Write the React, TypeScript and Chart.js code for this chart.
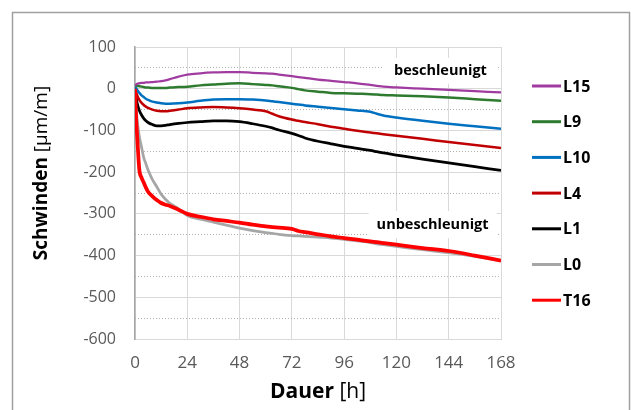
import { useEffect, useRef } from "react";
import { Chart, registerables } from "chart.js";

Chart.register(...registerables);

// ---- data ----
const hours = [0, 0.5, 1, 2, 3, 4, 5, 6, 8, 10, 12, 14, 16, 20, 24, 30, 36, 42, 48, 54, 60, 63, 66, 72, 75, 78, 84, 90, 96, 102, 108, 111, 114, 120, 132, 144, 156, 168];

const seriesNames = ["L15", "L9", "L10", "L4", "L1", "L0", "T16"];

const L15 = [8, 10, 12, 13, 14, 14, 15, 15, 16, 17, 18, 20, 23, 29, 34, 37, 39, 40, 40, 38, 37, 36, 34, 30, 28, 26, 22, 19, 16, 13, 9, 7, 5, 3, 0, -3, -6, -9];
const L9 = [8, 8, 7, 6, 5, 4, 3, 3, 2, 2, 2, 2, 3, 4, 5, 8, 10, 12, 13, 11, 9, 8, 6, 2, -1, -4, -7, -10, -11, -12, -13, -14, -15, -16, -18, -21, -25, -29];
const L10 = [5, 2, -3, -10, -16, -20, -24, -27, -31, -33, -35, -36, -36, -35, -33, -29, -26, -25, -25, -26, -28, -30, -32, -36, -38, -40, -43, -46, -49, -52, -55, -60, -64, -69, -77, -84, -90, -96];
const L4 = [0, -8, -16, -27, -34, -39, -43, -46, -50, -53, -54, -54, -53, -50, -47, -45, -44, -45, -47, -50, -54, -60, -66, -74, -77, -80, -85, -91, -96, -101, -105, -107, -109, -113, -120, -128, -135, -142];
const L1 = [0, -20, -35, -52, -63, -71, -77, -81, -86, -89, -89, -88, -86, -83, -81, -79, -77, -77, -79, -84, -90, -94, -99, -107, -112, -118, -126, -132, -138, -143, -148, -151, -154, -159, -169, -178, -187, -196];
const L0 = [0, -40, -75, -115, -140, -165, -180, -195, -218, -235, -253, -265, -275, -288, -304, -313, -320, -327, -334, -340, -345, -347, -349, -352, -353, -354, -356, -358, -361, -365, -369, -372, -374, -378, -386, -393, -402, -412];
const T16 = [0, -70, -115, -195, -213, -225, -237, -247, -258, -267, -274, -278, -281, -290, -300, -307, -313, -317, -321, -326, -330, -332, -333, -336, -341, -344, -349, -354, -358, -362, -366, -368, -370, -374, -382, -389, -400, -412];

const seriesValues = [L15, L9, L10, L4, L1, L0, T16];

const xTickStep = 24;
const yMajorStep = 100;
const yMinorTicks = [-550, -450, -350, -250, -150, -50, 50];

const annotationTexts = ["beschleunigt", "unbeschleunigt"];
const annotationHours = [140.2, 136.6];
const annotationValues = [43, -325.5];

// ---- styles ----
const colors = ["#A03CA0", "#2E7B30", "#0070C0", "#C00000", "#000000", "#A6A6A6", "#FF0000"];
const widths = [2.25, 2.5, 2.5, 2.5, 2.75, 2.75, 3.75];
const FONT = "'Open Sans', 'Noto Sans', sans-serif";

const framePlugin = {
  id: "frame",
  beforeDraw(chart: any) {
    const ctx = chart.ctx;
    ctx.save();
    ctx.fillStyle = "#ffffff";
    ctx.fillRect(0, 0, chart.width, chart.height);
    ctx.strokeStyle = "#A0A0A0";
    ctx.lineWidth = 1.5;
    ctx.strokeRect(12.5, 12.5, 617, 430);
    ctx.restore();
  },
};

const boxSizes = [
  [115, 26],
  [128, 27],
];

const annotationPlugin = {
  id: "annot",
  beforeDatasetsDraw(chart: any) {
    const ctx = chart.ctx;
    const xs = chart.scales.x;
    const ys = chart.scales.y;
    ctx.save();
    annotationTexts.forEach((txt, i) => {
      const px = xs.getPixelForValue(annotationHours[i]);
      const py = ys.getPixelForValue(annotationValues[i]);
      const [w, h] = boxSizes[i];
      ctx.fillStyle = "#ffffff";
      ctx.fillRect(px - w / 2, py - h / 2, w, h);
      ctx.fillStyle = "#000000";
      ctx.font = `bold 14.5px ${FONT}`;
      ctx.textAlign = "center";
      ctx.textBaseline = "middle";
      ctx.fillText(txt, px, py);
    });
    ctx.restore();
  },
};

const legendPlugin = {
  id: "customLegend",
  afterDraw(chart: any) {
    const ctx = chart.ctx;
    ctx.save();
    const top = 86;
    const step = 35.7;
    chart.data.datasets.forEach((ds: any, i: number) => {
      const y = top + i * step;
      ctx.strokeStyle = ds.borderColor;
      ctx.lineWidth = 3;
      ctx.beginPath();
      ctx.moveTo(532, y);
      ctx.lineTo(561, y);
      ctx.stroke();
      ctx.fillStyle = "#000000";
      ctx.font = `bold 16px ${FONT}`;
      ctx.textAlign = "left";
      ctx.textBaseline = "middle";
      ctx.fillText(ds.label, 563, y + 1);
    });
    ctx.restore();
  },
};

function drawMixed(ctx: any, parts: [string, string][], cx: number, cy: number) {
  let total = 0;
  parts.forEach(([t, f]) => {
    ctx.font = f;
    total += ctx.measureText(t).width;
  });
  let x = cx - total / 2;
  parts.forEach(([t, f]) => {
    ctx.font = f;
    ctx.fillText(t, x, cy);
    x += ctx.measureText(t).width;
  });
}

const titlesPlugin = {
  id: "titles",
  afterDraw(chart: any) {
    const ctx = chart.ctx;
    const area = chart.chartArea;
    ctx.save();
    ctx.fillStyle = "#000000";
    ctx.textAlign = "left";
    ctx.textBaseline = "middle";
    drawMixed(
      ctx,
      [
        ["Dauer ", `bold 21px ${FONT}`],
        ["[h]", `21px ${FONT}`],
      ],
      (area.left + area.right) / 2,
      392
    );
    ctx.translate(42, 173);
    ctx.rotate(-Math.PI / 2);
    drawMixed(
      ctx,
      [
        ["Schwinden ", `bold 19px ${FONT}`],
        ["[µm/m]", `19px ${FONT}`],
      ],
      0,
      0
    );
    ctx.restore();
  },
};

export default function App() {
  const ref = useRef<HTMLCanvasElement | null>(null);

  useEffect(() => {
    document.body.style.margin = "0";
    if (!ref.current) return;
    Chart.defaults.font.family = FONT;
    const datasets = seriesNames.map((name, i) => ({
      label: name,
      data: hours.map((h, j) => ({ x: h, y: seriesValues[i][j] })),
      borderColor: colors[i],
      backgroundColor: colors[i],
      borderWidth: widths[i],
      pointRadius: 0,
      fill: false,
      cubicInterpolationMode: "monotone" as const,
      order: name === "T16" ? -1 : i,
      yAxisID: "y",
    }));

    const chart = new Chart(ref.current, {
      type: "line",
      data: { datasets },
      options: {
        animation: false,
        responsive: false,
        devicePixelRatio: 1,
        layout: { padding: { left: 0, right: 130, top: 47, bottom: 0 } },
        plugins: {
          legend: { display: false },
          tooltip: { enabled: false },
        },
        scales: {
          x: {
            type: "linear",
            min: 0,
            max: 168,
            ticks: {
              stepSize: xTickStep,
              color: "#595959",
              font: { size: 17 },
              padding: 14,
              maxRotation: 0,
            },
            grid: { color: "#D9D9D9", drawTicks: false },
            border: { color: "#D9D9D9" },
            afterFit(s: any) {
              s.height = 71;
            },
          },
          y: {
            type: "linear",
            position: "left",
            min: -600,
            max: 100,
            ticks: {
              stepSize: yMajorStep,
              color: "#595959",
              font: { size: 16 },
              padding: 19,
            },
            grid: { color: "#D9D9D9", drawTicks: false },
            border: { color: "#A6A6A6", width: 1.5 },
            afterFit(s: any) {
              s.width = 135;
            },
          },
          y2: {
            type: "linear",
            position: "left",
            min: -600,
            max: 100,
            afterBuildTicks(s: any) {
              s.ticks = yMinorTicks.map((v) => ({ value: v }));
            },
            ticks: { display: false },
            grid: { color: "#B0B0B0", drawTicks: false },
            border: { display: false, dash: [1, 2] },
            afterFit(s: any) {
              s.width = 0;
            },
          },
        },
      } as any,
      plugins: [framePlugin, annotationPlugin, legendPlugin, titlesPlugin],
    });
    return () => chart.destroy();
  }, []);

  return (
    <div style={{ position: "absolute", left: 0, top: 0, width: 631, height: 410 }}>
      <canvas ref={ref} width={631} height={410} style={{ width: 631, height: 410 }} />
    </div>
  );
}
